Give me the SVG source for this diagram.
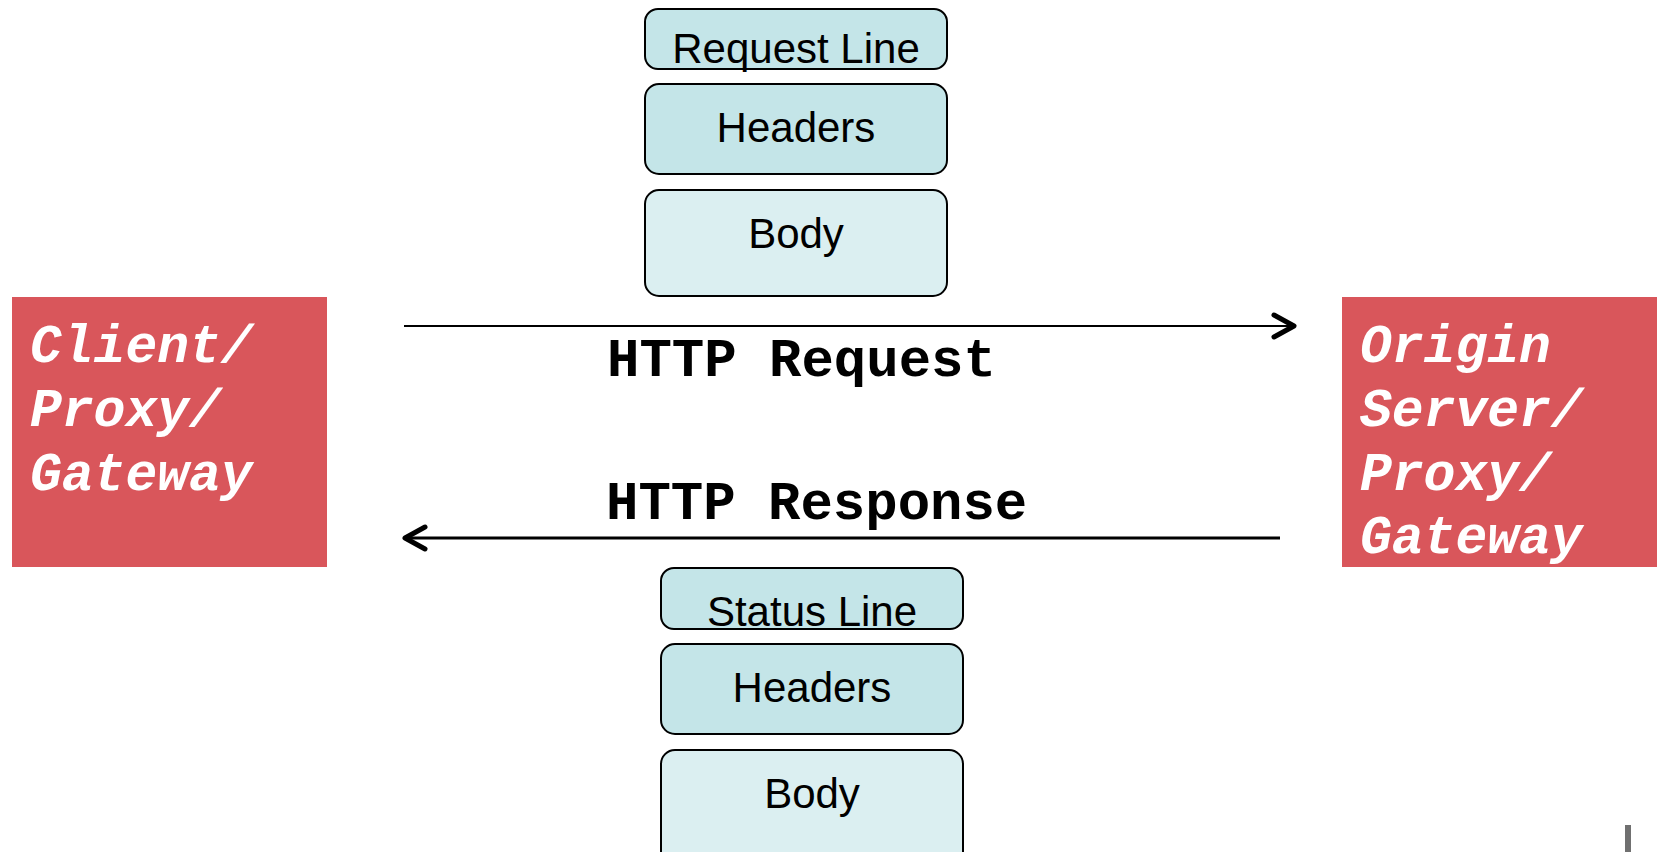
<svg xmlns="http://www.w3.org/2000/svg" width="1658" height="852" viewBox="0 0 1658 852">
<style>
.part{stroke:#000;stroke-width:2}
.dark{fill:#c4e5e8}
.light{fill:#dbeff1}
.lbl{font-family:"Liberation Sans",Arial,sans-serif;font-size:42px;fill:#000;text-anchor:middle}
.ep{fill:#d9565b}
.ept{font-family:"Courier New","Nimbus Mono PS","FreeMono","Liberation Mono",monospace;font-weight:bold;font-style:italic;font-size:53px;fill:#fff}
.msg{font-family:"Courier New","Nimbus Mono PS","FreeMono","Liberation Mono",monospace;font-weight:bold;font-size:54px;fill:#000}
.conn{stroke:#000;fill:none}
</style>
<defs>
<marker id="chev" markerUnits="userSpaceOnUse" markerWidth="28" markerHeight="28" refX="22" refY="12" orient="auto" overflow="visible">
<path d="M2,1 L22,12 L2,23" fill="none" stroke="#000" stroke-width="5" stroke-linecap="round" stroke-linejoin="round"/>
</marker>
</defs>
<rect width="1658" height="852" fill="#fff"/>

<g id="client">
<rect class="ep" x="12" y="297" width="315" height="270"/>
<text class="ept" x="30" y="362">Client/</text>
<text class="ept" x="30" y="426">Proxy/</text>
<text class="ept" x="30" y="490">Gateway</text>
</g>

<g id="server">
<rect class="ep" x="1342" y="297" width="315" height="270"/>
<text class="ept" x="1360" y="362">Origin</text>
<text class="ept" x="1360" y="426">Server/</text>
<text class="ept" x="1360" y="490">Proxy/</text>
<text class="ept" x="1360" y="553">Gateway</text>
</g>

<g id="req-line">
<rect class="part dark" x="645" y="9" width="302" height="60" rx="13"/>
<text class="lbl" x="796" y="63">Request Line</text>
</g>
<g id="req-headers">
<rect class="part dark" x="645" y="84" width="302" height="90" rx="14"/>
<text class="lbl" x="796" y="142">Headers</text>
</g>
<g id="req-body">
<rect class="part light" x="645" y="190" width="302" height="106" rx="14"/>
<text class="lbl" x="796" y="248">Body</text>
</g>

<g id="status-line">
<rect class="part dark" x="661" y="568" width="302" height="61" rx="13"/>
<text class="lbl" x="812" y="626">Status Line</text>
</g>
<g id="resp-headers">
<rect class="part dark" x="661" y="644" width="302" height="90" rx="14"/>
<text class="lbl" x="812" y="702">Headers</text>
</g>
<g id="resp-body">
<rect class="part light" x="661" y="750" width="302" height="120" rx="14"/>
<text class="lbl" x="812" y="808">Body</text>
</g>

<g id="connectors">
<line class="conn" x1="404" y1="326" x2="1294" y2="326" stroke-width="2" marker-end="url(#chev)"/>
<text class="msg" x="607" y="376">HTTP Request</text>
<line class="conn" x1="1280" y1="538" x2="405" y2="538" stroke-width="3" marker-end="url(#chev)"/>
<text class="msg" x="606" y="519">HTTP Response</text>
</g>

<rect x="1625" y="825" width="6" height="27" fill="#707070"/>
</svg>
